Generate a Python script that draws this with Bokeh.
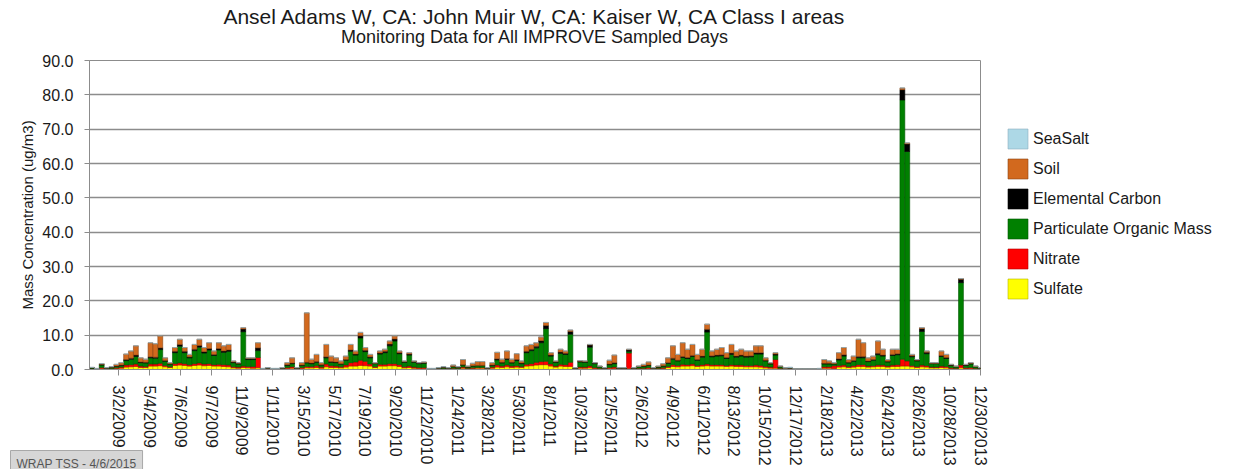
import pandas as pd
from bokeh.plotting import figure
from bokeh.models import (ColumnDataSource, Range1d, FixedTicker, Legend, LegendItem,
                          PrintfTickFormatter, Title, GlobalInlineStyleSheet)
from bokeh.embed import file_html
from bokeh.resources import INLINE

# ---------------- data (ug/m3), one value per 10-day period ----------------
FIRST_SAMPLE = "2009-01-01"
PERIOD_DAYS = 10
AXIS_START = "2009-01-01"
AXIS_END = "2013-12-31"

sulfate = [
    0.2, 0.1, 0.3, 0.15, 0.2, 0.3, 0.4, 0.7, 0.8, 0.9,
    0.6, 0.6, 1.0, 1.0, 1.1, 0.8, 0.6, 1.2, 1.3, 1.2,
    1.0, 1.2, 1.3, 1.1, 1.2, 1.0, 1.0, 0.9, 0.8, 0.5,
    0.4, 0.6, 0.5, 0.4, 0.5, 0.08, 0.1, 0.08, 0.08, 0.1,
    0.3, 0.4, 0.1, 0.3, 0.5, 0.5, 0.6, 0.4, 0.8, 0.6,
    0.6, 0.5, 0.7, 1.0, 1.0, 1.2, 1.1, 1.0, 0.6, 1.0,
    1.0, 1.1, 1.1, 0.9, 0.5, 0.6, 0.4, 0.3, 0.3, 0.08,
    0.08, 0.1, 0.15, 0.1, 0.2, 0.15, 0.4, 0.2, 0.3, 0.4,
    0.4, 0.1, 0.4, 0.7, 0.6, 0.8, 0.6, 0.7, 0.6, 1.0,
    1.1, 1.3, 1.4, 1.4, 1.0, 0.7, 1.0, 0.9, 0.9, 0.1,
    0.4, 0.4, 0.5, 0.3, 0.2, 0.1, 0.3, 0.3, 0.1, 0.1,
    0.3, 0.1, 0.2, 0.2, 0.3, 0.1, 0.2, 0.3, 0.6, 0.9,
    0.8, 1.0, 1.0, 1.1, 0.9, 1.0, 1.1, 1.0, 1.0, 1.0,
    0.9, 1.0, 0.9, 0.9, 0.8, 0.8, 0.8, 0.7, 0.5, 0.4,
    0.4, 0.2, 0.1, 0.1, 0.05, 0.05, 0.05, 0.05, 0.05, 0.08,
    0.4, 0.4, 0.3, 0.7, 0.8, 0.6, 0.7, 0.9, 0.9, 0.7,
    0.8, 0.9, 0.9, 0.7, 0.9, 0.9, 1.0, 1.0, 0.8, 0.6,
    0.8, 0.7, 0.5, 0.5, 0.6, 0.5, 0.3, 0.2, 0.5, 0.3,
    0.3, 0.2, 0.1,
]
nitrate = [
    0.1, 0.05, 0.3, 0.1, 0.1, 0.2, 0.3, 0.6, 0.6, 0.7,
    0.4, 0.3, 0.6, 0.6, 0.7, 0.4, 0.2, 0.5, 0.6, 0.5,
    0.4, 0.5, 0.6, 0.5, 0.5, 0.4, 0.5, 0.5, 0.5, 0.3,
    0.3, 0.4, 0.4, 0.5, 3.0, 0.07, 0.1, 0.07, 0.07, 0.1,
    0.3, 0.4, 0.1, 0.3, 0.4, 0.4, 0.5, 0.3, 0.8, 0.5,
    0.4, 0.3, 0.6, 1.0, 1.2, 1.5, 1.3, 0.6, 0.2, 0.5,
    0.5, 0.6, 0.6, 0.5, 0.3, 0.4, 0.3, 0.3, 0.3, 0.07,
    0.07, 0.1, 0.15, 0.1, 0.2, 0.15, 0.3, 0.2, 0.2, 0.2,
    0.2, 0.1, 0.3, 0.6, 0.4, 0.5, 0.4, 0.4, 0.3, 0.5,
    0.6, 0.8, 0.9, 1.0, 0.6, 0.3, 0.5, 0.5, 1.2, 0.1,
    0.3, 0.3, 0.5, 0.3, 0.2, 0.1, 0.3, 0.4, 0.1, 0.1,
    4.5, 0.1, 0.2, 0.2, 0.3, 0.1, 0.2, 0.2, 0.3, 0.5,
    0.4, 0.5, 0.4, 0.5, 0.3, 0.4, 0.5, 0.4, 0.4, 0.4,
    0.3, 0.4, 0.4, 0.4, 0.4, 0.4, 0.5, 0.5, 0.4, 0.3,
    2.5, 0.2, 0.1, 0.1, 0.05, 0.05, 0.05, 0.05, 0.05, 0.07,
    0.4, 0.4, 0.8, 0.5, 0.5, 0.3, 0.4, 0.5, 0.5, 0.3,
    0.3, 0.4, 0.4, 0.3, 0.4, 0.5, 2.0, 1.5, 0.4, 0.3,
    0.5, 0.4, 0.2, 0.2, 0.4, 0.4, 0.2, 0.2, 0.8, 0.2,
    0.3, 0.2, 0.1,
]
organic_mass = [
    0.2, 0.1, 0.7, 0.15, 0.3, 0.4, 0.5, 1.3, 1.6, 2.2,
    1.0, 1.0, 1.8, 1.7, 4.0, 1.2, 0.8, 3.2, 4.9, 3.2,
    2.0, 3.8, 4.6, 3.2, 4.0, 2.7, 4.2, 3.6, 4.0, 1.2,
    0.9, 10.0, 2.0, 2.0, 2.0, 0.1, 0.2, 0.1, 0.1, 0.2,
    0.6, 0.9, 0.2, 0.6, 1.0, 0.8, 1.0, 0.6, 1.8, 1.0,
    1.0, 0.8, 1.4, 3.3, 2.0, 6.5, 2.8, 1.8, 0.9, 3.0,
    3.4, 5.2, 6.6, 3.2, 1.3, 3.2, 1.4, 1.1, 1.2, 0.1,
    0.1, 0.2, 0.3, 0.2, 0.4, 0.3, 0.6, 0.3, 0.5, 0.5,
    0.5, 0.2, 0.5, 1.5, 0.9, 1.6, 0.9, 1.5, 0.8, 3.4,
    3.8, 4.2, 5.5, 9.5, 2.3, 1.1, 3.2, 3.0, 8.2, 0.2,
    1.5, 1.4, 5.5, 1.1, 0.4, 0.2, 0.8, 1.0, 0.2, 0.2,
    0.5, 0.2, 0.4, 0.5, 0.6, 0.2, 0.3, 0.5, 0.9, 1.6,
    1.3, 2.0, 1.8, 2.2, 1.5, 2.2, 9.3, 2.3, 2.5, 2.6,
    2.0, 3.0, 2.3, 2.6, 2.4, 2.5, 3.2, 3.3, 1.6, 0.9,
    1.3, 0.4, 0.15, 0.2, 0.05, 0.05, 0.05, 0.05, 0.05, 0.1,
    0.8, 0.8, 0.5, 1.6, 2.6, 1.0, 1.3, 2.0, 2.0, 1.3,
    1.6, 3.0, 2.6, 1.2, 2.8, 2.9, 75.5, 61.0, 2.5, 1.6,
    9.8, 3.5, 1.0, 1.0, 2.8, 2.3, 0.7, 0.4, 24.0, 0.7,
    1.0, 0.4, 0.2,
]
elemental_carbon = [
    0.05, 0.03, 0.2, 0.05, 0.1, 0.1, 0.1, 0.3, 0.3, 0.4,
    0.2, 0.2, 0.3, 0.3, 0.5, 0.2, 0.1, 0.4, 0.5, 0.4,
    0.3, 0.4, 0.5, 0.4, 0.4, 0.3, 0.4, 0.4, 0.4, 0.2,
    0.2, 0.8, 0.3, 0.3, 0.8, 0.03, 0.05, 0.03, 0.03, 0.05,
    0.2, 0.2, 0.05, 0.1, 0.2, 0.2, 0.2, 0.1, 0.3, 0.2,
    0.2, 0.1, 0.2, 0.4, 0.3, 0.6, 0.4, 0.3, 0.1, 0.3,
    0.4, 0.5, 0.6, 0.3, 0.2, 0.3, 0.2, 0.2, 0.2, 0.03,
    0.03, 0.05, 0.1, 0.05, 0.1, 0.1, 0.1, 0.1, 0.1, 0.1,
    0.1, 0.05, 0.1, 0.3, 0.2, 0.3, 0.2, 0.3, 0.2, 0.4,
    0.4, 0.5, 0.6, 0.9, 0.3, 0.2, 0.4, 0.3, 0.8, 0.05,
    0.2, 0.2, 0.6, 0.2, 0.1, 0.05, 0.2, 0.3, 0.05, 0.05,
    0.4, 0.05, 0.1, 0.1, 0.1, 0.05, 0.1, 0.1, 0.2, 0.3,
    0.2, 0.3, 0.3, 0.3, 0.2, 0.3, 0.8, 0.3, 0.3, 0.3,
    0.3, 0.4, 0.3, 0.3, 0.3, 0.3, 0.4, 0.4, 0.2, 0.2,
    0.3, 0.1, 0.05, 0.05, 0.02, 0.02, 0.02, 0.02, 0.02, 0.03,
    0.2, 0.2, 0.1, 0.3, 0.4, 0.2, 0.2, 0.4, 0.4, 0.2,
    0.2, 0.4, 0.3, 0.2, 0.3, 0.3, 3.0, 2.2, 0.3, 0.2,
    0.8, 0.4, 0.1, 0.1, 0.3, 0.3, 0.1, 0.1, 1.0, 0.1,
    0.2, 0.1, 0.05,
]
soil = [
    0.05, 0.02, 0.2, 0.05, 0.1, 0.5, 0.7, 1.6, 2.1, 2.7,
    1.2, 0.9, 4.1, 3.9, 3.5, 0.8, 0.3, 1.1, 1.5, 1.1,
    0.7, 1.4, 1.8, 1.2, 1.7, 1.0, 1.7, 1.5, 1.6, 0.3,
    0.2, 0.4, 0.2, 0.2, 1.5, 0.02, 0.05, 0.02, 0.02, 0.05,
    0.6, 1.5, 0.05, 0.7, 14.4, 1.1, 2.1, 0.6, 3.6, 1.6,
    1.2, 0.8, 1.0, 1.6, 0.9, 1.0, 0.8, 0.7, 0.2, 0.6,
    0.6, 0.9, 0.9, 0.5, 0.2, 0.4, 0.2, 0.1, 0.2, 0.02,
    0.02, 0.05, 0.1, 0.05, 0.4, 0.1, 1.5, 0.2, 0.7, 1.1,
    1.1, 0.05, 0.7, 1.9, 0.9, 2.2, 0.9, 1.7, 0.6, 1.6,
    1.4, 1.0, 1.1, 0.9, 0.7, 0.2, 0.8, 0.7, 0.4, 0.05,
    0.2, 0.2, 0.2, 0.1, 0.1, 0.05, 1.1, 2.2, 0.05, 0.05,
    0.2, 0.05, 0.1, 0.5, 0.9, 0.05, 0.2, 0.6, 1.4, 3.6,
    1.7, 4.0, 2.4, 3.2, 1.5, 2.0, 1.5, 1.4, 1.7, 2.1,
    1.4, 2.5, 1.5, 1.7, 1.5, 1.4, 2.0, 2.0, 0.7, 0.2,
    0.4, 0.1, 0.05, 0.05, 0.03, 0.03, 0.03, 0.03, 0.03, 0.02,
    1.1, 0.7, 0.3, 1.8, 2.1, 0.8, 1.3, 5.0, 4.0, 0.9,
    1.0, 3.6, 1.7, 0.5, 1.5, 1.3, 0.5, 0.3, 0.4, 0.2,
    0.3, 0.4, 0.2, 0.2, 1.3, 0.9, 0.2, 0.1, 0.2, 0.2,
    0.2, 0.1, 0.05,
]
sea_salt = [
    0.05, 0.05, 0.05, 0.05, 0.05, 0.0, 0.0, 0.0, 0.0, 0.0,
    0.0, 0.0, 0.0, 0.0, 0.0, 0.0, 0.0, 0.0, 0.0, 0.0,
    0.0, 0.0, 0.0, 0.0, 0.0, 0.0, 0.0, 0.0, 0.0, 0.0,
    0.0, 0.0, 0.0, 0.0, 0.0, 0.05, 0.05, 0.05, 0.05, 0.05,
    0.0, 0.0, 0.05, 0.0, 0.0, 0.0, 0.0, 0.0, 0.0, 0.0,
    0.0, 0.0, 0.0, 0.0, 0.0, 0.0, 0.0, 0.0, 0.0, 0.0,
    0.0, 0.0, 0.0, 0.0, 0.0, 0.0, 0.0, 0.0, 0.0, 0.05,
    0.05, 0.05, 0.05, 0.05, 0.0, 0.05, 0.0, 0.0, 0.0, 0.0,
    0.0, 0.05, 0.0, 0.0, 0.0, 0.0, 0.0, 0.0, 0.0, 0.0,
    0.0, 0.0, 0.0, 0.0, 0.0, 0.0, 0.0, 0.0, 0.0, 0.05,
    0.0, 0.0, 0.0, 0.0, 0.0, 0.05, 0.0, 0.0, 0.05, 0.05,
    0.0, 0.05, 0.0, 0.0, 0.0, 0.05, 0.0, 0.0, 0.0, 0.0,
    0.0, 0.0, 0.0, 0.0, 0.0, 0.0, 0.0, 0.0, 0.0, 0.0,
    0.0, 0.0, 0.0, 0.0, 0.0, 0.0, 0.0, 0.0, 0.0, 0.0,
    0.0, 0.05, 0.05, 0.2, 0.05, 0.05, 0.05, 0.05, 0.05, 0.05,
    0.0, 0.0, 0.0, 0.0, 0.0, 0.0, 0.0, 0.0, 0.0, 0.0,
    0.0, 0.0, 0.0, 0.0, 0.0, 0.0, 0.0, 0.0, 0.0, 0.0,
    0.0, 0.0, 0.0, 0.0, 0.0, 0.0, 0.0, 0.0, 0.0, 0.0,
    0.0, 0.05, 0.05,
]

species_keys = ["sulfate", "nitrate", "pom", "ec", "soil", "seasalt"]
species_names = ["Sulfate", "Nitrate", "Particulate Organic Mass",
                 "Elemental Carbon", "Soil", "SeaSalt"]
fill_colors = ["#FFFF00", "#FF0000", "#008000", "#000000", "#D2691E", "#ADD8E6"]
edge_colors = ["#B5B500", "#B00000", "#005500", "#000000", "#8B4513", "#8FB0C0"]

tick_labels = [
    "3/2/2009", "5/4/2009", "7/6/2009", "9/7/2009", "11/9/2009", "1/11/2010",
    "3/15/2010", "5/17/2010", "7/19/2010", "9/20/2010", "11/22/2010", "1/24/2011",
    "3/28/2011", "5/30/2011", "8/1/2011", "10/3/2011", "12/5/2011", "2/6/2012",
    "4/9/2012", "6/11/2012", "8/13/2012", "10/15/2012", "12/17/2012", "2/18/2013",
    "4/22/2013", "6/24/2013", "8/26/2013", "10/28/2013", "12/30/2013",
]
y_ticks = [0, 10, 20, 30, 40, 50, 60, 70, 80, 90]

title_text = "Ansel Adams W, CA: John Muir W, CA: Kaiser W, CA Class I areas"
subtitle_text = "Monitoring Data for All IMPROVE Sampled Days"
y_title = "Mass Concentration (ug/m3)"
footer_text = "WRAP TSS - 4/6/2015"

# ---------------- layout constants (pixels) ----------------
H = 469
FRAME_L, FRAME_R, FRAME_T, FRAME_B = 89, 980, 60, 369
RIGHT_BORDER = 682          # space Bokeh reserves for the side legend panel
W = FRAME_R + RIGHT_BORDER  # canvas is wider than the window; the extra is blank
FONT = "Liberation Sans"
GRID = "#8C8C8C"
TXT = "#1a1a1a"

# ---------------- main chart ----------------
origin = pd.Timestamp(AXIS_START)
dates = pd.date_range(FIRST_SAMPLE, periods=len(sulfate), freq=f"{PERIOD_DAYS}D")
xs = [float((d - origin).days) + PERIOD_DAYS / 2 for d in dates]

src = ColumnDataSource(dict(x=xs, sulfate=sulfate, nitrate=nitrate, pom=organic_mass,
                            ec=elemental_carbon, soil=soil, seasalt=sea_salt))

tick_pos = [int((pd.to_datetime(t, format="%m/%d/%Y") - origin).days) for t in tick_labels]
x_end = (pd.Timestamp(AXIS_END) - origin).days

p = figure(width=W, height=H, output_backend="svg", toolbar_location=None,
           title_location=None,
           x_range=Range1d(0, x_end), y_range=Range1d(0, 90),
           min_border_left=FRAME_L, min_border_right=RIGHT_BORDER,
           min_border_top=FRAME_T, min_border_bottom=H - FRAME_B)
p.stylesheets = [GlobalInlineStyleSheet(css="html, body { overflow: hidden; margin: 0; }")]
p.background_fill_color = "white"
p.border_fill_color = "white"
p.outline_line_color = GRID
p.outline_line_width = 1

renderers = p.vbar_stack(species_keys, x="x", width=PERIOD_DAYS, source=src,
                         fill_color=fill_colors, line_color=edge_colors, line_width=0.6)

p.xaxis.ticker = FixedTicker(ticks=tick_pos)
p.xaxis.major_label_overrides = {tp: lab for tp, lab in zip(tick_pos, tick_labels)}
p.xaxis.major_label_orientation = "vertical"
p.xaxis.major_tick_out = 6
p.xaxis.major_tick_in = 0
p.xaxis.minor_tick_out = 0
p.xaxis.major_label_standoff = 10
p.xaxis.axis_line_color = GRID
p.xaxis.major_tick_line_color = GRID
p.xaxis.major_label_text_font = FONT
p.xaxis.major_label_text_font_size = "16px"
p.xaxis.major_label_text_color = TXT

p.yaxis.ticker = FixedTicker(ticks=y_ticks)
p.yaxis.formatter = PrintfTickFormatter(format="%.1f")
p.yaxis.major_tick_out = 5
p.yaxis.major_tick_in = 0
p.yaxis.minor_tick_out = 0
p.yaxis.major_label_standoff = 11
p.yaxis.axis_line_color = GRID
p.yaxis.major_tick_line_color = GRID
p.yaxis.major_label_text_font = FONT
p.yaxis.major_label_text_font_size = "16px"
p.yaxis.major_label_text_color = TXT
p.yaxis.axis_label = y_title
p.yaxis.axis_label_text_font = FONT
p.yaxis.axis_label_text_font_size = "15px"
p.yaxis.axis_label_text_font_style = "normal"
p.yaxis.axis_label_text_color = TXT
p.yaxis.axis_label_standoff = 3

p.xgrid.grid_line_color = None
p.ygrid.grid_line_color = GRID
p.ygrid.grid_line_width = 1.5

# legend in the right-hand panel
items = [LegendItem(label=species_names[i], renderers=[renderers[i]])
         for i in reversed(range(len(species_keys)))]
legend = Legend(items=items, location=(25, 68), orientation="vertical",
                glyph_width=25, glyph_height=25, label_height=25, spacing=5,
                padding=0, margin=0, label_standoff=3,
                label_text_font=FONT, label_text_font_size="16px", label_text_color=TXT,
                border_line_color=None, background_fill_alpha=0)
p.add_layout(legend, "right")

# titles above the frame (subtitle nearest the frame)
p.add_layout(Title(text=subtitle_text, align="center", vertical_align="top", standoff=23,
                   text_font=FONT, text_font_size="18px", text_font_style="normal",
                   text_color=TXT), "above")
p.add_layout(Title(text=title_text, align="center", vertical_align="bottom", standoff=-24,
                   text_font=FONT, text_font_size="21px", text_font_style="normal",
                   text_color=TXT), "above")

# footer stamp below the date labels (drawn up into the free corner)
p.add_layout(Title(text=footer_text, align="left", vertical_align="top", standoff=-36,
                   offset=10 - FRAME_L,
                   text_font=FONT, text_font_size="12px", text_font_style="normal",
                   text_color="#555555", background_fill_color="#D6D6D6",
                   border_line_color="#A8A8A8", padding=6), "below")

open("out.html", "w").write(file_html(p, INLINE))
